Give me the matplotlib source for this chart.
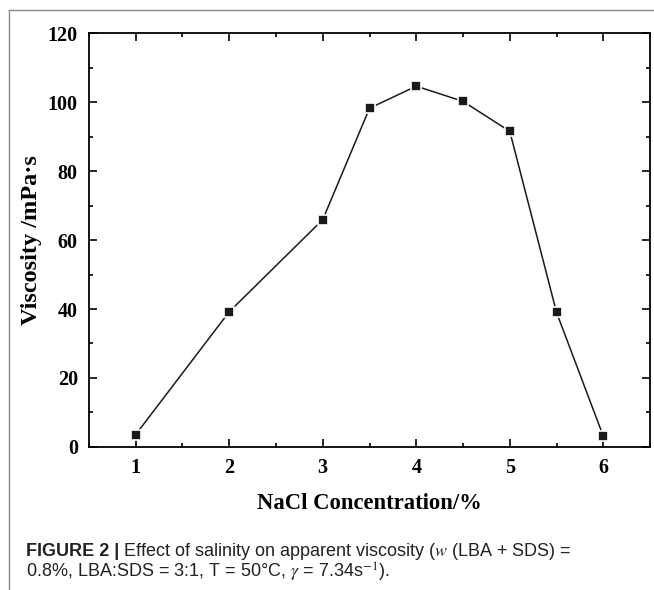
import matplotlib
matplotlib.use("Agg")
from matplotlib import pyplot as plt
from matplotlib.ticker import MultipleLocator

# data
nacl = [1, 2, 3, 3.5, 4, 4.5, 5, 5.5, 6]
viscosity = [3.6, 39.2, 65.9, 98.2, 104.6, 100.2, 91.5, 39.0, 3.1]

xticks = [1, 2, 3, 4, 5, 6]
yticks = [0, 20, 40, 60, 80, 100, 120]

plt.rcParams['font.family'] = ['Liberation Serif', 'DejaVu Serif']
plt.rcParams['mathtext.fontset'] = 'stix'

fig = plt.figure(figsize=(6.54, 5.9), dpi=100)
ax = fig.add_axes([0.136, 0.2424, 0.858, 0.7016])

ax.plot(nacl, viscosity, color='#1a1a1a', lw=1.1, marker='s', ms=7.5,
        mfc='#1a1a1a', mec='white', mew=1.2)

ax.set_xlim(0.5, 6.5)
ax.set_ylim(0, 120)
ax.set_xticks(xticks)
ax.set_yticks(yticks)
ax.xaxis.set_minor_locator(MultipleLocator(0.5))
ax.yaxis.set_minor_locator(MultipleLocator(10))
ax.tick_params(which='both', direction='in', top=True, right=True, width=1.2)
ax.tick_params(which='major', length=6, pad=8, labelsize=14.5)
ax.tick_params(which='minor', length=3)
for lbl in ax.get_xticklabels() + ax.get_yticklabels():
    lbl.set_fontweight('bold')
for sp in ax.spines.values():
    sp.set_linewidth(1.3)

ax.set_xlabel('NaCl Concentration/%', fontsize=16.3, fontweight='bold', labelpad=11)
ax.set_ylabel('Viscosity /mPa·s', fontsize=17.5, fontweight='bold', labelpad=4)

# grey frame of the figure panel
fig.add_artist(plt.Line2D([9 / 654, 9 / 654], [0, 1 - 10 / 590], color='#888888', lw=1))
fig.add_artist(plt.Line2D([9 / 654, 1], [1 - 10 / 590, 1 - 10 / 590], color='#888888', lw=1))

cap = ['Liberation Sans', 'DejaVu Sans']
fs = 13.0
fig.text(26 / 654, 1 - 552 / 590, 'FIGURE 2 |', fontsize=fs, fontweight='bold',
         family=cap, va='center', color='#222222')
fig.text(123 / 654, 1 - 552 / 590,
         'Effect of salinity on apparent viscosity ($\\it{w}$ (LBA + SDS) =',
         fontsize=fs, family=cap, va='center', color='#222222')
fig.text(26 / 654, 1 - 572 / 590,
         '0.8%, LBA:SDS = 3:1, T = 50°C, $\\gamma$ = 7.34s$^{-1}$).',
         fontsize=fs, family=cap, va='center', color='#222222')

fig.savefig('out.png', dpi=100)
